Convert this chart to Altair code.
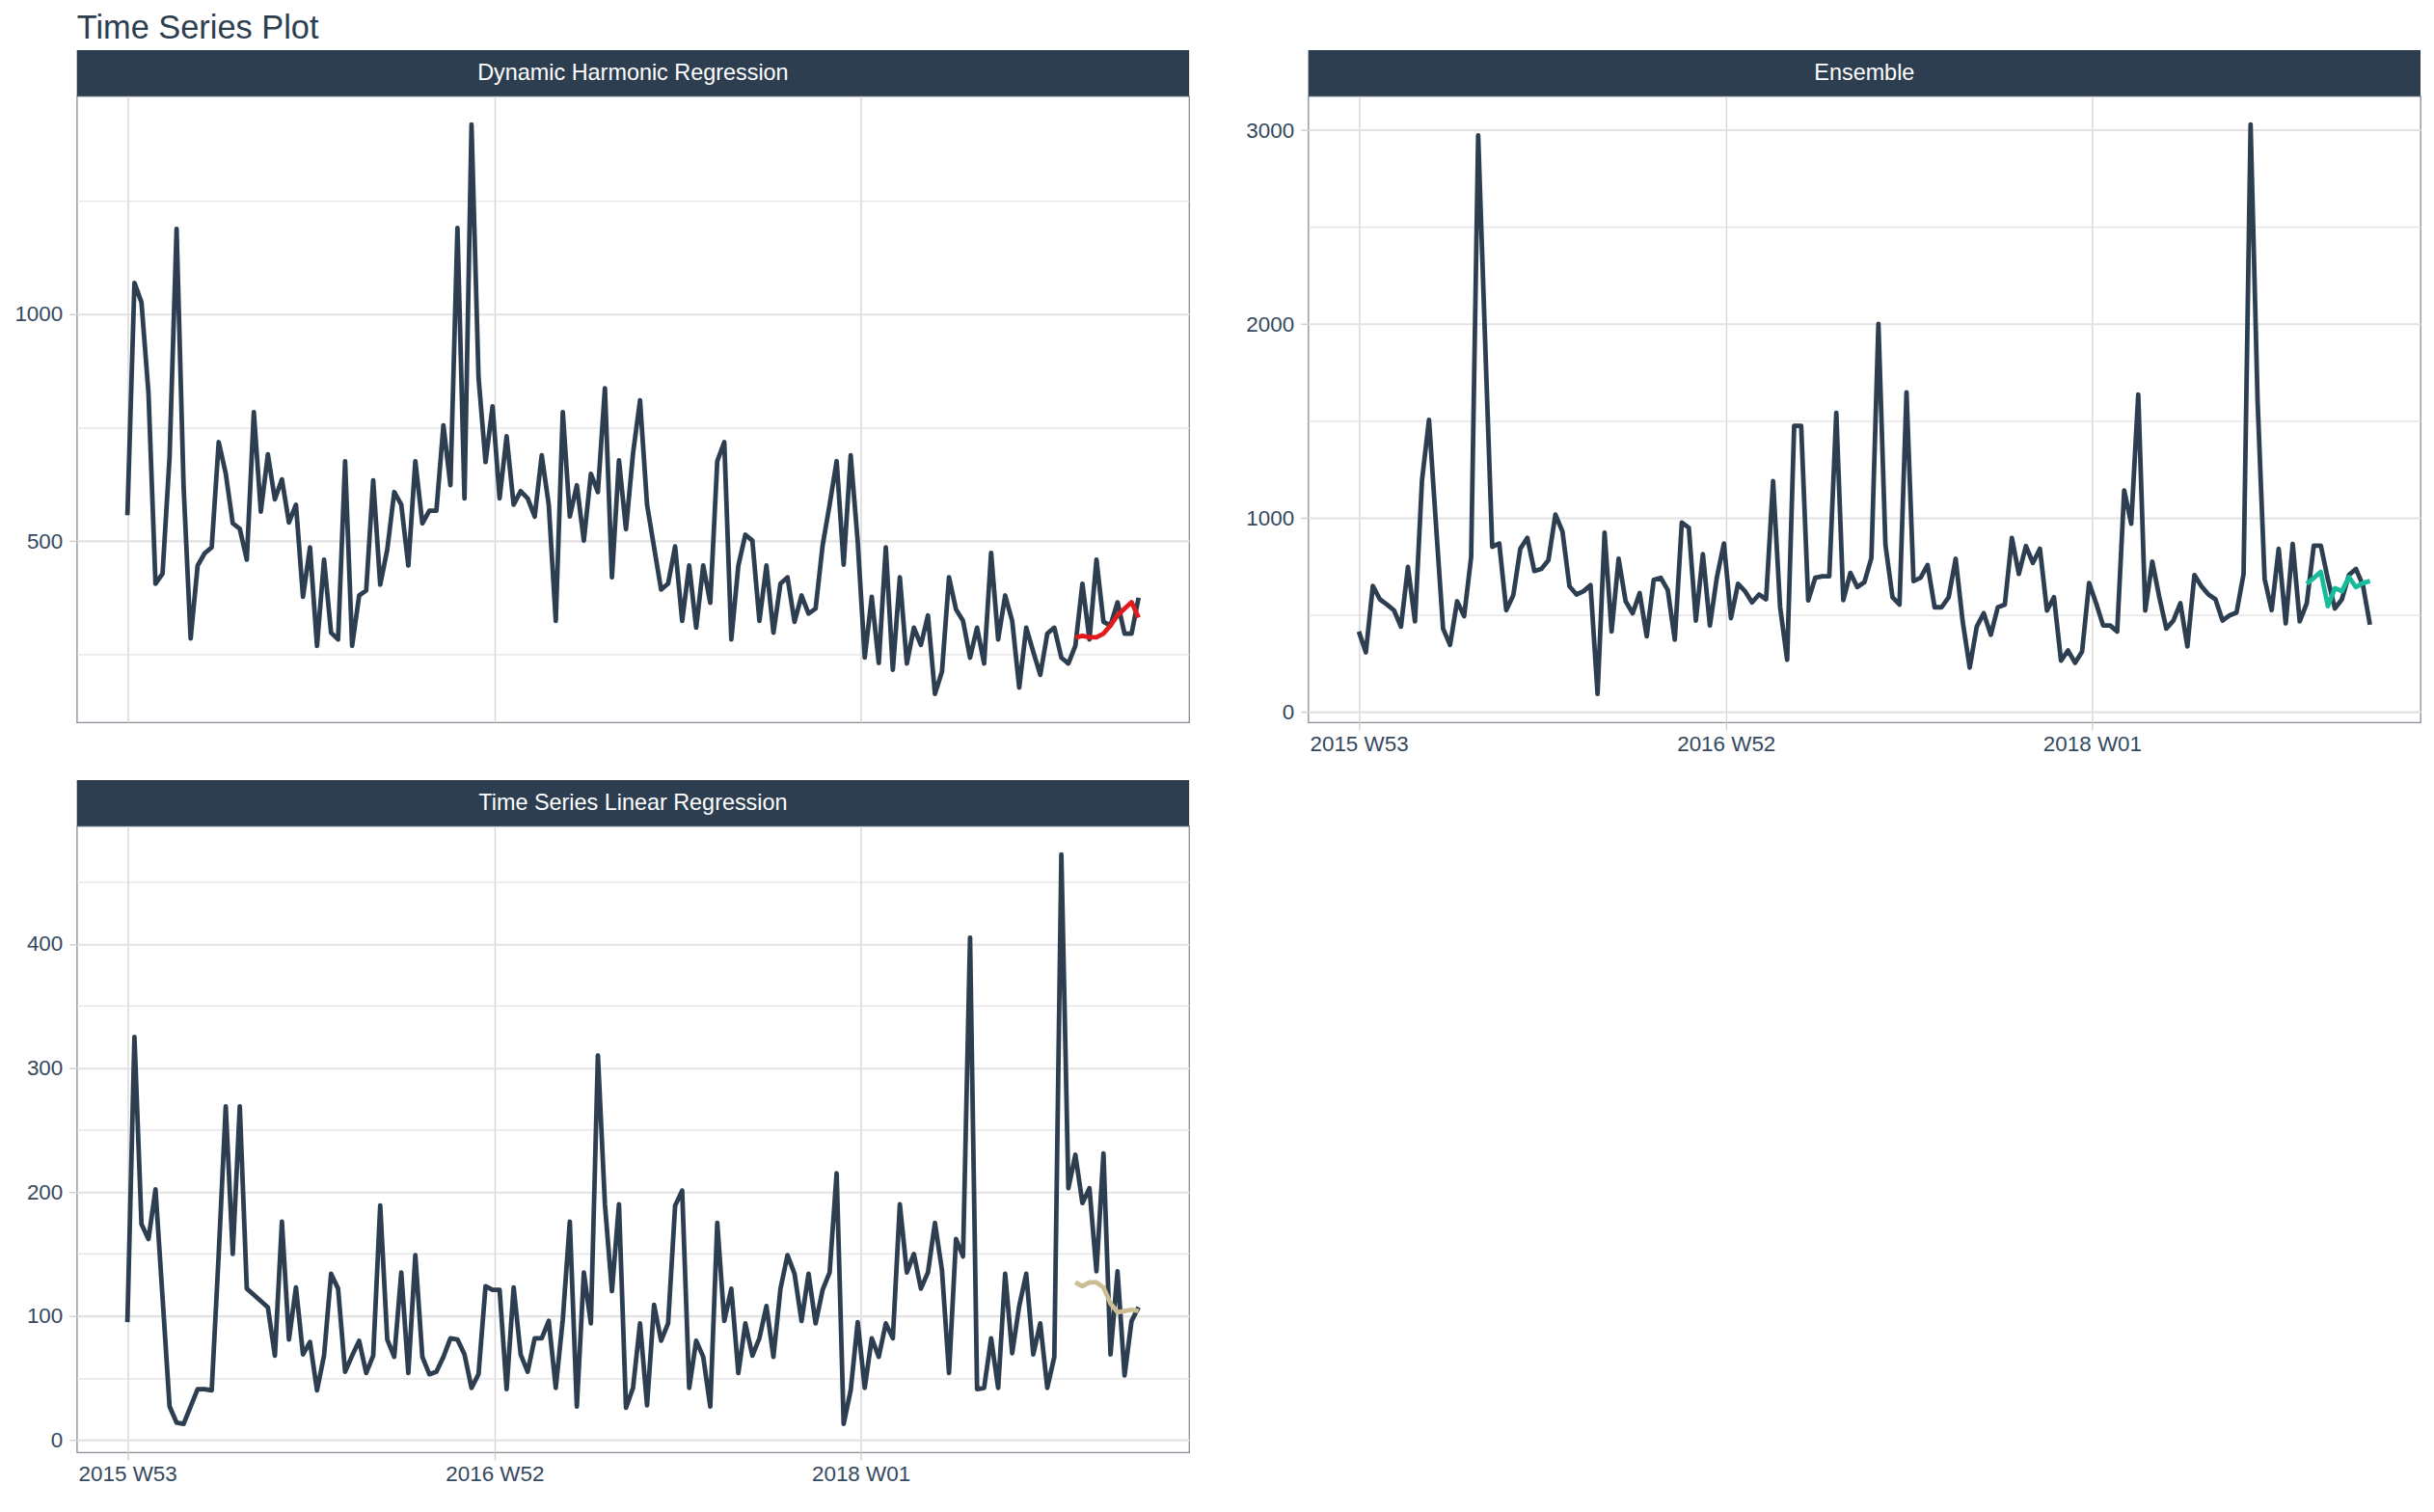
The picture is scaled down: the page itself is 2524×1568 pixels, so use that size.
import altair as alt
import pandas as pd
import numpy as np

# ---------------- data ----------------
START = "2016-01-01"
N_WEEKS = 145
FC_START = 135  # index of first forecast week

chart_title = "Time Series Plot"
panel_titles = ["Dynamic Harmonic Regression", "Ensemble", "Time Series Linear Regression"]
forecast_colors = ["#e31a1c", "#18BC9C", "#CCBE93"]
y_major_steps = [500, 1000, 100]
x_tick_years = [2016, 2017, 2018]

dhr_actual = [
    557, 1069, 1026, 826, 406, 428, 685, 1188, 620, 285,
    446, 473, 486, 718, 649, 539, 527, 459, 784, 565,
    691, 592, 636, 541, 580, 377, 486, 269, 459, 298,
    283, 676, 269, 380, 391, 634, 404, 481, 608, 580,
    446, 676, 539, 567, 567, 755, 623, 1190, 594, 1418,
    861, 674, 797, 594, 731, 580, 610, 594, 554, 689,
    580, 324, 784, 554, 623, 501, 648, 608, 837, 420,
    678, 526, 693, 810, 580, 486, 393, 406, 488, 324,
    446, 309, 446, 364, 676, 718, 283, 446, 514, 501,
    324, 446, 298, 406, 420, 322, 380, 340, 351, 490,
    580, 676, 448, 689, 499, 243, 377, 231, 486, 216,
    420, 230, 309, 271, 336, 163, 212, 420, 349, 324,
    243, 309, 230, 474, 283, 380, 324, 177, 309, 256,
    205, 296, 309, 243, 230, 269, 406, 283, 459, 322,
    314, 365, 296, 296, 375,
]
dhr_forecast = [287, 291, 288, 288, 296, 314, 336, 351, 365, 331]

ens_actual = [
    414, 306, 649, 580, 553, 524, 439, 747, 466, 1194,
    1506, 960, 429, 345, 570, 493, 799, 2973, 1900, 851,
    868, 524, 601, 841, 897, 726, 737, 782, 1017, 930,
    647, 605, 622, 653, 92, 924, 414, 789, 570, 508,
    612, 389, 680, 691, 628, 372, 976, 949, 470, 813,
    445, 695, 868, 483, 660, 622, 564, 605, 580, 1190,
    539, 268, 1475, 1475, 574, 691, 699, 699, 1542, 576,
    716, 643, 668, 793, 2001, 861, 591, 553, 1648, 674,
    691, 757, 539, 539, 591, 789, 466, 227, 439, 508,
    397, 539, 553, 897, 711, 855, 768, 841, 522, 591,
    264, 316, 252, 310, 664, 560, 445, 445, 414, 1142,
    970, 1637, 522, 774, 591, 429, 470, 560, 337, 705,
    647, 605, 580, 470, 497, 512, 710, 3029, 1600, 685,
    524, 841, 456, 866, 466, 560, 857, 857, 685, 533,
    580, 705, 737, 653, 449,
]
ens_forecast = [660, 690, 722, 545, 637, 622, 695, 643, 664, 674]

tslr_actual = [
    95, 325, 174, 162, 202, 115, 27, 14, 13, 27,
    41, 41, 40, 150, 269, 150, 269, 122, 117, 112,
    107, 68, 176, 81, 123, 69, 79, 40, 68, 134,
    122, 55, 68, 80, 54, 68, 189, 81, 67, 135,
    54, 149, 67, 53, 55, 67, 82, 81, 69, 42,
    53, 124, 121, 121, 41, 123, 69, 55, 82, 82,
    96, 42, 97, 176, 27, 135, 94, 310, 190, 120,
    190, 26, 42, 94, 28, 109, 80, 94, 189, 201,
    42, 80, 67, 27, 175, 96, 122, 54, 94, 68,
    82, 108, 67, 122, 149, 134, 96, 134, 94, 121,
    135, 215, 13, 40, 95, 42, 82, 67, 94, 82,
    190, 135, 150, 122, 135, 175, 137, 54, 162, 148,
    405, 41, 42, 82, 42, 134, 70, 108, 134, 69,
    94, 42, 67, 472, 203, 230, 191, 203, 136, 231,
    69, 136, 52, 96, 107,
]
tslr_forecast = [127, 124, 127, 127, 123, 110, 103, 104, 105, 104]

actuals = [dhr_actual, ens_actual, tslr_actual]
forecasts = [dhr_forecast, ens_forecast, tslr_forecast]

# ---------------- style ----------------
NAVY = "#2c3e50"
FONT = "Liberation Sans"
W, H, STRIP_H = 1158, 652, 48
GRID = "#e2e2e2"
GRID_X = "#d6d6d6"
TICK = "#cfcfcf"
LINE_W = 4.8
TITLE_SIZE = 34.5

dates = pd.date_range(START, periods=N_WEEKS, freq="7D")
date_str = list(dates.strftime("%Y-%m-%dT%H:%M:%S"))
span = dates[-1] - dates[0]
x_lo = dates[0] - span * 0.05
x_hi = dates[-1] + span * 0.05


def dt(ts):
    return alt.DateTime(year=int(ts.year), month=int(ts.month), date=int(ts.day),
                        hours=int(ts.hour), minutes=int(ts.minute))


year_ticks = [alt.DateTime(year=y, month=1, date=1) for y in x_tick_years]


def panel(title, actual, forecast, color, step, show_x, main_title=None):
    df_a = pd.DataFrame({"date": date_str, "value": actual})
    df_f = pd.DataFrame({"date": date_str[FC_START:FC_START + len(forecast)], "value": forecast})
    lo = min(min(actual), min(forecast))
    hi = max(max(actual), max(forecast))
    pad = (hi - lo) * 0.05
    ydom = [lo - pad, hi + pad]
    half = step / 2
    yvals = [k * half for k in range(int(np.ceil(ydom[0] / half)), int(np.floor(ydom[1] / half)) + 1)]
    is_major = f"datum.value % {step} === 0"

    yaxis = alt.Axis(
        values=yvals, format="d", title=None, domain=False,
        labelExpr=f"{is_major} ? datum.label : ''",
        grid=True, gridColor=GRID,
        gridWidth={"condition": {"test": is_major, "value": 2.1}, "value": 1.2},
        ticks=True, tickSize=8, tickColor=TICK, tickWidth=1.4,
        tickOpacity={"condition": {"test": is_major, "value": 1}, "value": 0},
        labelPadding=7,
    )
    xaxis = alt.Axis(
        values=year_ticks, format="%G W%V", title=None, domain=False,
        labels=show_x, ticks=show_x, tickSize=8, tickColor=TICK, tickWidth=1.4,
        grid=True, gridColor=GRID_X, gridWidth=1.4,
        labelPadding=4, labelFlush=False, labelOverlap=False,
    )
    x_enc = alt.X("date:T", scale=alt.Scale(domain=[dt(x_lo), dt(x_hi)], nice=False), axis=xaxis)
    y_enc = alt.Y("value:Q", scale=alt.Scale(domain=ydom, nice=False, zero=False), axis=yaxis)

    line_a = alt.Chart(df_a).mark_line(color=NAVY, strokeWidth=LINE_W, strokeJoin="round").encode(x=x_enc, y=y_enc)
    line_f = alt.Chart(df_f).mark_line(color=color, strokeWidth=LINE_W, strokeJoin="round").encode(
        x="date:T", y="value:Q")

    strip_df = pd.DataFrame({"label": [title]})
    strip = alt.Chart(strip_df).mark_rect(color=NAVY).encode(
        x=alt.value(0), x2=alt.value(W), y=alt.value(-STRIP_H), y2=alt.value(0))
    strip_txt = alt.Chart(strip_df).mark_text(
        color="white", font=FONT, fontSize=23.5, align="center", baseline="middle"
    ).encode(x=alt.value(W / 2), y=alt.value(-STRIP_H / 2), text="label:N")

    layers = [line_a, line_f, strip, strip_txt]
    if main_title is not None:
        title_df = pd.DataFrame({"label": [main_title]})
        layers.append(
            alt.Chart(title_df).mark_text(
                color=NAVY, font=FONT, fontSize=TITLE_SIZE, align="left", baseline="alphabetic"
            ).encode(x=alt.value(0), y=alt.value(-STRIP_H - 12), text="label:N")
        )
    return alt.layer(*layers).properties(width=W, height=H)


panels = [
    panel(panel_titles[i], actuals[i], forecasts[i], forecast_colors[i], y_major_steps[i], i > 0,
          chart_title if i == 0 else None)
    for i in range(3)
]

chart = alt.concat(
    *panels, columns=2, spacing={"row": 108, "column": 124}, bounds="flush"
).properties(
    padding={"left": 6, "top": 0, "right": 5, "bottom": 5},
).configure(
    background="white"
).configure_view(
    stroke="#858d96", strokeWidth=1.3
).configure_axis(
    labelFont=FONT, labelFontSize=22.5, labelColor="#34495e"
)

chart.save("out.html", embed_options={"renderer": "svg", "actions": False})
